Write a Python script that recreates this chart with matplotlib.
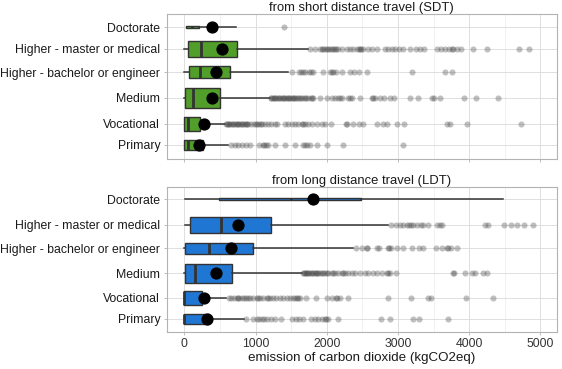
import matplotlib
matplotlib.use("Agg")
import matplotlib.pyplot as plt
from matplotlib.ticker import MultipleLocator

plt.rcParams['font.family'] = ['Liberation Sans', 'DejaVu Sans']

categories = ["Doctorate", "Higher - master or medical", "Higher - bachelor or engineer",
              "Medium", "Vocational", "Primary"]

# ---- short distance travel (SDT) ----
sdt_q1 = [30, 55, 60, 5, 0, 0]
sdt_med = [110, 240, 220, 115, 45, 45]
sdt_q3 = [210, 745, 640, 500, 220, 265]
sdt_lo = [30, 0, 0, 0, 0, 0]
sdt_hi = [723, 1740, 1458, 1200, 569, 616]
sdt_mean = [386, 535, 450, 386, 280, 200]
sdt_fliers = [
    [1402],
    [1763, 1833, 1900, 1927, 1950, 1973, 2000, 2020, 2040, 2067, 2090, 2114, 2130, 2161, 2207,
     2278, 2325, 2371, 2418, 2450, 2465, 2480, 2512, 2582, 2629, 2708, 2816, 2863, 2910, 2957,
     3018, 3074, 3167, 3252, 3308, 3364, 3542, 3598, 3659, 3720, 3760, 3776, 3832, 3879, 4047,
     4254, 4694, 4839],
    [1505, 1613, 1640, 1660, 1692, 1753, 1780, 1810, 1950, 2044, 2070, 2090, 2128, 2208, 2325,
     2385, 2456, 2559, 3200, 3664, 3762],
    [1210, 1224, 1240, 1257, 1275, 1294, 1310, 1332, 1350, 1365, 1380, 1398, 1420, 1435, 1450,
     1472, 1490, 1505, 1520, 1538, 1555, 1576, 1600, 1622, 1645, 1669, 1690, 1707, 1739, 1772,
     1790, 1810, 1903, 1997, 2067, 2114, 2161, 2180, 2207, 2301, 2320, 2348, 2465, 2629, 2650,
     2676, 2746, 2807, 2886, 2943, 3167, 3284, 3481, 3500, 3589, 3930, 4094, 4408],
    [583, 600, 616, 630, 648, 665, 686, 700, 723, 740, 756, 770, 789, 810, 826, 845, 864, 880,
     896, 943, 976, 1000, 1014, 1051, 1070, 1084, 1131, 1177, 1224, 1271, 1304, 1412, 1458,
     1505, 1552, 1599, 1646, 1670, 1692, 1739, 1786, 1856, 1927, 1973, 2053, 2268, 2290, 2371,
     2456, 2502, 2708, 2793, 2840, 2980, 3083, 3683, 3729, 3963, 4726],
    [662, 709, 756, 803, 864, 920, 1051, 1098, 1120, 1145, 1177, 1271, 1412, 1552, 1669, 1700,
     1716, 1763, 1856, 1997, 2231, 3074],
]

# ---- long distance travel (LDT) ----
ldt_q1 = [480, 80, 5, 5, 0, 0]
ldt_med = [1500, 513, 350, 150, 0, 0]
ldt_q3 = [2474, 1215, 966, 667, 255, 345]
ldt_lo = [5, 5, 0, 0, 0, 0]
ldt_hi = [4478, 2863, 2362, 1646, 592, 836]
ldt_mean = [1800, 760, 660, 450, 280, 312]
ldt_fliers = [
    [],
    [2896, 2966, 3027, 3064, 3121, 3158, 3180, 3205, 3261, 3322, 3345, 3425, 3551, 3589, 3612,
     4221, 4268, 4488, 4581, 4675, 4769, 4890],
    [2404, 2488, 2559, 2570, 2699, 2737, 2863, 2880, 2896, 2980, 3074, 3191, 3294, 3355, 3533,
     3612, 3682, 3700, 3739, 3823],
    [1669, 1680, 1695, 1707, 1720, 1739, 1755, 1772, 1790, 1810, 1830, 1847, 1865, 1880, 1900,
     1927, 1950, 1973, 2000, 2020, 2067, 2090, 2114, 2161, 2207, 2230, 2254, 2301, 2348, 2395,
     2465, 2535, 2582, 2652, 2699, 2769, 2840, 2863, 2886, 2971, 3767, 3790, 3940, 4034, 4080,
     4197, 4244],
    [630, 662, 695, 733, 750, 770, 803, 836, 873, 900, 920, 967, 1014, 1040, 1060, 1107, 1154,
     1180, 1201, 1248, 1294, 1341, 1388, 1435, 1482, 1529, 1550, 1575, 1600, 1622, 1706, 1842,
     2006, 2067, 2128, 2150, 2184, 2301, 2863, 3177, 3425, 3458, 3954, 4328],
    [873, 967, 1014, 1051, 1084, 1116, 1163, 1224, 1271, 1351, 1505, 1566, 1613, 1669, 1772,
     1833, 1880, 1927, 1973, 1990, 2020, 2161, 2755, 2886, 3205, 3298, 3696],
]

# ---- layout (row positions and box thickness, in panel units) ----
sdt_pos = [27, 49, 72, 98, 124, 145]
sdt_widths = [2.5, 15.7, 11.7, 20, 13.3, 10.7]
ldt_pos = [199, 225, 248, 273, 298, 319]
ldt_widths = [2.5, 16, 11, 19, 13.3, 10]

W, H = 562, 369
fig = plt.figure(figsize=(W / 100, H / 100), dpi=100)
left, right = 166.5, 556.5
ax1 = fig.add_axes([left / W, (H - 159) / H, (right - left) / W, (159 - 13.5) / H])
ax2 = fig.add_axes([left / W, (H - 332) / H, (right - left) / W, (332 - 187) / H])

green = '#529E2A'
blue = '#1F76D3'
edge = '#333333'


def draw(ax, q1, med, q3, lo, hi, mean, fliers, pos, widths, color, ylim, title):
    stats = []
    for i in range(len(categories)):
        stats.append(dict(label=categories[i], q1=q1[i], med=med[i], q3=q3[i],
                          whislo=lo[i], whishi=hi[i], mean=mean[i], fliers=fliers[i]))
    ax.bxp(stats, positions=pos, widths=widths, orientation='horizontal',
           showmeans=True, showcaps=False, patch_artist=True, manage_ticks=False,
           boxprops=dict(facecolor=color, edgecolor=edge, linewidth=1.0),
           medianprops=dict(color=edge, linewidth=2.0),
           whiskerprops=dict(color=edge, linewidth=1.1),
           meanprops=dict(marker='o', markerfacecolor='black', markeredgecolor='black',
                          markersize=7.8),
           flierprops=dict(marker='o', markerfacecolor='#4a4a4a', markeredgecolor='none',
                           alpha=0.35, markersize=4.4))
    ax.set_ylim(*ylim)
    ax.set_xlim(-250, 5225)
    ax.set_yticks(pos)
    ax.set_yticklabels(categories, fontsize=8.8, color='#1a1a1a')
    ax.xaxis.set_major_locator(MultipleLocator(1000))
    ax.xaxis.set_minor_locator(MultipleLocator(500))
    ax.grid(True, which='major', color='#dedede', linewidth=0.7)
    ax.grid(True, which='minor', axis='x', color='#ebebeb', linewidth=0.5)
    ax.set_axisbelow(True)
    for s in ax.spines.values():
        s.set_color('#b3b3b3')
        s.set_linewidth(0.8)
    ax.tick_params(axis='both', which='major', length=2.5, color='#b3b3b3', width=0.6,
                   labelsize=8.8, pad=2)
    ax.tick_params(axis='x', which='minor', length=0)
    ax.set_title(title, fontsize=9.4, color='#1a1a1a', pad=0.5)


draw(ax1, sdt_q1, sdt_med, sdt_q3, sdt_lo, sdt_hi, sdt_mean, sdt_fliers,
     sdt_pos, sdt_widths, green, (159, 13.5), "from short distance travel (SDT)")
draw(ax2, ldt_q1, ldt_med, ldt_q3, ldt_lo, ldt_hi, ldt_mean, ldt_fliers,
     ldt_pos, ldt_widths, blue, (332, 187), "from long distance travel (LDT)")

ax1.tick_params(axis='x', labelbottom=False)
ax2.tick_params(axis='x', labelcolor='#333333')
ax2.set_xlabel("emission of carbon dioxide (kgCO2eq)", fontsize=9.6, color='#1a1a1a', labelpad=1)

fig.savefig("out.png", dpi=100, facecolor='white')
